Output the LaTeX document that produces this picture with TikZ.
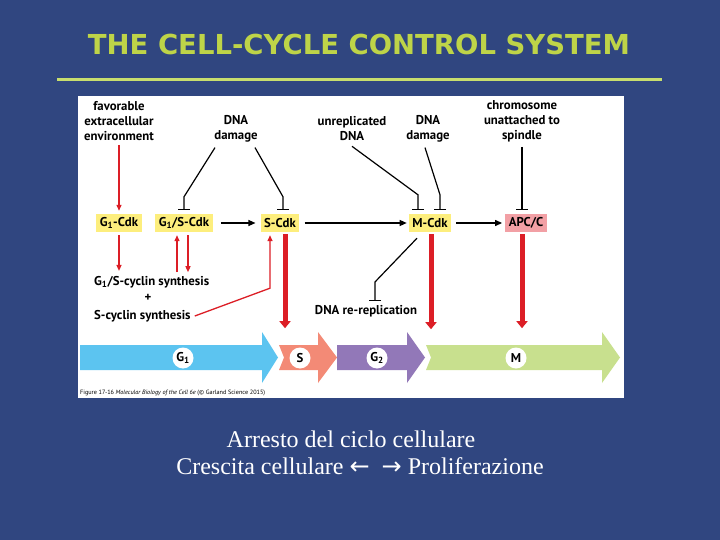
\documentclass[tikz,border=0pt]{standalone}
\usepackage{fontspec}
\setmainfont{Liberation Serif}
\newfontfamily\figfont{PT Sans}
\newfontfamily\headfont{DejaVu Sans}
\usetikzlibrary{arrows.meta,calc}

\definecolor{slidebg}{RGB}{48,70,128}
\definecolor{titlegreen}{RGB}{190,212,72}
\definecolor{rulegreen}{RGB}{200,222,110}
\definecolor{cdkyellow}{RGB}{253,238,125}
\definecolor{apcpink}{RGB}{242,160,165}
\definecolor{cellred}{RGB}{220,30,38}
\definecolor{g1blue}{RGB}{92,196,240}
\definecolor{ssalmon}{RGB}{243,138,118}
\definecolor{g2purple}{RGB}{146,120,184}
\definecolor{mgreen}{RGB}{200,224,142}

\tikzset{
  lbl/.style={font=\figfont\bfseries\fontsize{12.8}{15}\selectfont, align=center, inner sep=1pt},
  cdk/.style={lbl, fill=cdkyellow, minimum height=18pt, inner xsep=3.5pt},
  phase/.style={lbl, circle, fill=white, minimum size=21pt, inner sep=0pt},
  inhib/.style={line width=1.2pt, -{Bar[width=12pt]}, shorten >=4pt},
  stim/.style={line width=1.2pt, -{Triangle[length=7pt,width=6pt]}},
  redthin/.style={cellred, line width=1.3pt, -{Triangle[length=6pt,width=5pt]}},
  redthick/.style={cellred, line width=5pt, -{Triangle[length=7pt,width=11pt]}},
}

\begin{document}
\begin{tikzpicture}[x=1pt, y=-1pt]
  \useasboundingbox (0,0) rectangle (720,540);
  \fill[slidebg] (0,0) rectangle (720,540);
  \node[anchor=base, font=\headfont\bfseries\fontsize{27.5}{30}\selectfont, text=titlegreen] (title) at (359,55) {THE CELL-CYCLE CONTROL SYSTEM};
  \draw[rulegreen, line width=3pt] (57,80) -- (662,80);
  \fill[white] (78,96) rectangle (624,398);

  % signals
  \node[lbl] (env) at (119,121) {favorable\\extracellular\\environment};
  \node[lbl] (dmgA) at (236,129) {DNA\\damage};
  \node[lbl] (unrep) at (352,129) {unreplicated\\DNA};
  \node[lbl] (dmgB) at (428,129) {DNA\\damage};
  \node[lbl] (chrom) at (522,121) {chromosome\\unattached to\\spindle};

  % control system
  \node[cdk] (g1cdk) at (119,223) {G\textsubscript{1}-Cdk};
  \node[cdk] (g1s) at (184,223) {G\textsubscript{1}/S-Cdk};
  \node[cdk] (scdk) at (280,223) {S-Cdk};
  \node[cdk] (mcdk) at (430,223) {M-Cdk};
  \node[cdk, fill=apcpink] (apc) at (526,223) {APC/C};

  \node[lbl, anchor=west] (g1syn) at (93,282) {G\textsubscript{1}/S-cyclin synthesis};
  \node[lbl] (plus) at (148,298) {+};
  \node[lbl, anchor=west] (scyn) at (93,316) {S-cyclin synthesis};
  \node[lbl] (rerep) at (366,311) {DNA re-replication};

  % phases
  \fill[g1blue] (80,345) -- (262,345) -- (262,332) -- (278,357.5) -- (262,383) -- (262,370) -- (80,370) -- cycle;
  \fill[ssalmon] (279,345) -- (318,345) -- (318,332) -- (337,357.5) -- (318,383) -- (318,370) -- (279,370) -- (284,357.5) -- cycle;
  \fill[g2purple] (337,345) -- (407,345) -- (407,332) -- (425,357.5) -- (407,383) -- (407,370) -- (337,370) -- cycle;
  \fill[mgreen] (426,345) -- (602,345) -- (602,332) -- (620,357.5) -- (602,383) -- (602,370) -- (426,370) -- (431,357.5) -- cycle;
  \node[phase] (g1) at (183,358) {G\textsubscript{1}};
  \node[phase] (s) at (300,358) {S};
  \node[phase] (g2) at (377,358) {G\textsubscript{2}};
  \node[phase] (m) at (516,358) {M};
  \node[anchor=west, inner sep=0pt, font=\figfont\fontsize{6.2}{7}\selectfont] (fig) at (80,393) {Figure 17-16 \textit{Molecular Biology of the Cell 6e} (© Garland Science 2015)};

  % inhibitions
  \draw[inhib] ($(dmgA.south)+(-21,4)$) -- ($(g1s.north)+(0,-17)$) -- (g1s.north);
  \draw[inhib] ($(dmgA.south)+(19,4)$) -- ($(scdk.north)+(3,-17)$) -- ($(scdk.north)+(3,0)$);
  \draw[inhib] ($(unrep.south)+(0,4)$) -- ($(mcdk.north)+(-12,-19)$) -- ($(mcdk.north)+(-12,0)$);
  \draw[inhib] ($(dmgB.south)+(-3,4)$) -- ($(mcdk.north)+(10,-19)$) -- ($(mcdk.north)+(10,0)$);
  \draw[inhib] ($(chrom.south)+(0,4)$) -- ($(apc.north)+(-4,0)$);
  \draw[inhib, shorten >=3pt] ($(mcdk.south)+(-13,6)$) -- ($(rerep.north)+(9,-22)$) -- ($(rerep.north)+(9,0)$);

  % activations
  \draw[stim, shorten <=8pt, shorten >=5pt] (g1s.east) -- (scdk.west);
  \draw[stim, shorten <=5pt, shorten >=2pt] (scdk.east) -- (mcdk.west);
  \draw[stim, shorten <=5pt, shorten >=3pt] (mcdk.east) -- (apc.west);

  \draw[redthin, shorten >=3pt] ($(env.south)+(0,3)$) -- (g1cdk.north);
  \draw[redthin, shorten <=3pt, shorten >=4pt] (g1cdk.south) -- (g1cdk.south |- g1syn.north);
  \draw[redthin] ($(g1s.south)+(-7,40)$) -- ($(g1s.south)+(-7,3)$);
  \draw[redthin] ($(g1s.south)+(4,3)$) -- ($(g1s.south)+(4,40)$);
  \draw[redthin] ($(scyn.east)+(3,0)$) -- ($(scdk.south)+(-10,56)$) -- ($(scdk.south)+(-10,3)$);

  \draw[redthick] ($(scdk.south)+(5,2)$) -- ($(scdk.south)+(5,96)$);
  \draw[redthick] ($(mcdk.south)+(1,2)$) -- ($(mcdk.south)+(1,97)$);
  \draw[redthick] ($(apc.south)+(-4,2)$) -- ($(apc.south)+(-4,96)$);

  % bottom text
  \node[anchor=base, text=white, font=\fontsize{24}{28}\selectfont] (arresto) at (351,447) {Arresto del ciclo cellulare};
  \node[anchor=base, text=white, font=\fontsize{24}{28}\selectfont] (crescita) at (360,474) {Crescita cellulare {\headfont ←}\ \ {\headfont →} Proliferazione};
\end{tikzpicture}
\end{document}
